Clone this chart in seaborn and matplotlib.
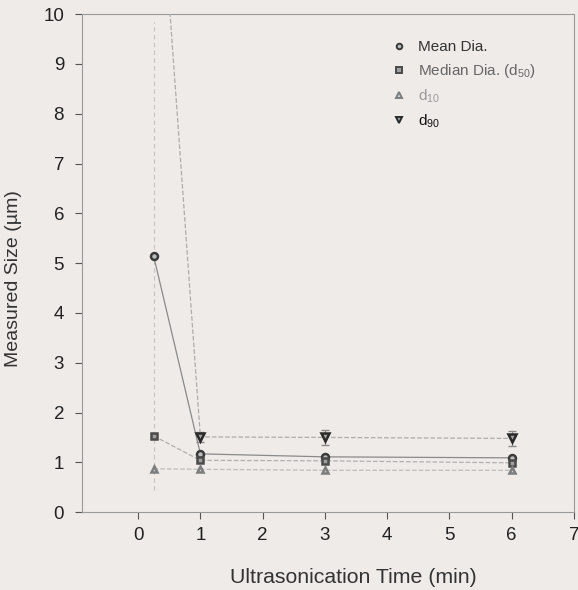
import numpy as np
import pandas as pd
import matplotlib
matplotlib.use("Agg")
import matplotlib.pyplot as plt
import seaborn as sns

# Ultrasonication time (min) and particle size statistics (µm)
time_min = [0.25, 1, 3, 6]
mean_dia = [5.14, 1.17, 1.11, 1.09]
median_d50 = [1.53, 1.04, 1.03, 0.99]
d10 = [0.87, 0.86, 0.84, 0.84]
d90 = [14.6, 1.51, 1.50, 1.48]

mean_err = [4.7, 0.08, 0.08, 0.08]
d90_err = [0.0, 0.10, 0.15, 0.15]

x_ticks = [0, 1, 2, 3, 4, 5, 6, 7]
y_ticks = [0, 1, 2, 3, 4, 5, 6, 7, 8, 9, 10]

bg = "#efebe8"
sns.set_theme(style="white")
plt.rcParams["font.family"] = ["Liberation Sans", "DejaVu Sans"]
plt.rcParams["mathtext.fontset"] = "custom"
plt.rcParams["mathtext.rm"] = "Liberation Sans"
plt.rcParams["mathtext.it"] = "Liberation Sans"

fig = plt.figure(figsize=(5.78, 5.90), dpi=100, facecolor=bg)
ax = fig.add_axes([0.142, 0.132, 0.851, 0.844])
ax.set_facecolor(bg)

df = pd.DataFrame({
    "time": time_min * 4,
    "size": mean_dia + median_d50 + d10 + d90,
    "series": (["mean"] * 4 + ["d50"] * 4 + ["d10"] * 4 + ["d90"] * 4),
})

styles = {
    "mean": dict(ls="-", lc="#8a8a8a", marker="o", mec="#3a3a3a", mfc="#bdbdbd", ms=5),
    "d50": dict(ls="--", lc="#b0b0b0", marker="s", mec="#4a4a4a", mfc="#a0a0a0", ms=5),
    "d10": dict(ls="--", lc="#bdbdbd", marker="^", mec="#7d7d7d", mfc="#d0d0d0", ms=5),
    "d90": dict(ls="--", lc="#adadad", marker="v", mec="#2a2a2a", mfc="#a5a5a5", ms=5.5),
}

# error bars drawn underneath the markers
eb = ax.errorbar(time_min, mean_dia, yerr=mean_err, fmt="none", ecolor="#c4c4c4",
                 elinewidth=0.8, capsize=0, zorder=1)
for coll in eb[2]:
    coll.set_linestyle((0, (4, 3)))
ax.errorbar(time_min[1:], d90[1:], yerr=d90_err[1:], fmt="none", ecolor="#8a8a8a",
            elinewidth=0.8, capsize=3, zorder=1)

for key, st in styles.items():
    sub = df[df["series"] == key]
    sns.lineplot(data=sub, x="time", y="size", ax=ax, color=st["lc"],
                 linestyle=st["ls"], linewidth=0.9, marker=st["marker"],
                 markersize=st["ms"], markeredgecolor=st["mec"],
                 markerfacecolor=st["mfc"], markeredgewidth=1.8,
                 legend=False, zorder=3)

ax.set_xlim(-0.9, 7.0)
ax.set_ylim(0, 10)
ax.set_xticks(x_ticks)
ax.set_yticks(y_ticks)
ax.tick_params(axis="both", direction="out", length=5, width=0.8,
               color="#555555", labelsize=13.5, labelcolor="#222222",
               bottom=True, left=True, top=False, right=False)
ax.tick_params(axis="y", pad=8)
ax.tick_params(axis="x", pad=6)
for side in ["left", "bottom", "top", "right"]:
    ax.spines[side].set_color("#9a9a9a")
    ax.spines[side].set_linewidth(0.8)

ax.set_xlabel("Ultrasonication Time (min)", fontsize=15.3, color="#333333")
ax.set_ylabel("Measured Size (µm)", fontsize=14, color="#333333")
ax.xaxis.set_label_coords(0.552, -0.112)
ax.yaxis.set_label_coords(-0.122, 0.47)

# legend: marker-only entries with individually tinted labels
entries = [
    ("Mean Dia.", "o", "#3a3a3a", "#bdbdbd", "#333333"),
    ("Median Dia. (d$_{50}$)", "s", "#4a4a4a", "#a0a0a0", "#666666"),
    ("d$_{10}$", "^", "#7d7d7d", "#d0d0d0", "#9a9a9a"),
    ("d$_{90}$", "v", "#2a2a2a", "#a5a5a5", "#111111"),
]
handles = [plt.Line2D([], [], linestyle="none", marker=m, markeredgecolor=ec,
                      markerfacecolor=fc, markersize=4, markeredgewidth=1.4)
           for _, m, ec, fc, _ in entries]
leg = ax.legend(handles, [e[0] for e in entries], loc="upper left",
                bbox_to_anchor=(0.6, 0.975), frameon=False, fontsize=11,
                handlelength=1.0, handletextpad=0.8, labelspacing=0.5)
for txt, e in zip(leg.get_texts(), entries):
    txt.set_color(e[4])

fig.savefig("out.png", dpi=100, facecolor=bg)
